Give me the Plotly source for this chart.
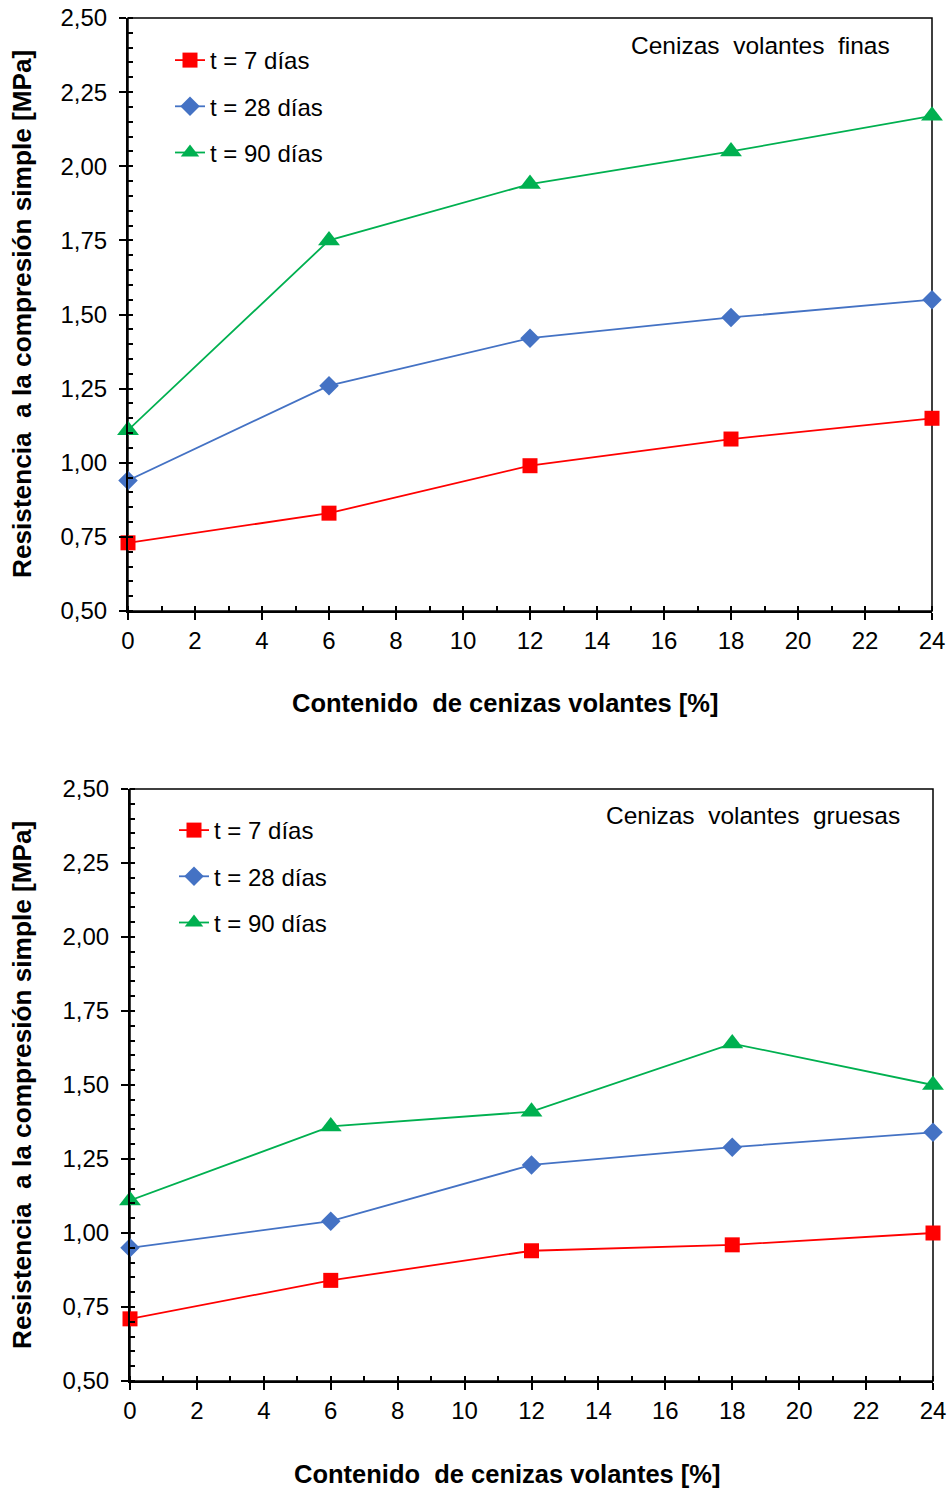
import plotly.graph_objects as go

# ---------------- data ----------------
x_cenizas = [0, 6, 12, 18, 24]
series_names = ["t = 7 días", "t = 28 días", "t = 90 días"]

finas_7 = [0.73, 0.83, 0.99, 1.08, 1.15]
finas_28 = [0.94, 1.26, 1.42, 1.49, 1.55]
finas_90 = [1.11, 1.75, 1.94, 2.05, 2.17]

gruesas_7 = [0.71, 0.84, 0.94, 0.96, 1.00]
gruesas_28 = [0.95, 1.04, 1.23, 1.29, 1.34]
gruesas_90 = [1.11, 1.36, 1.41, 1.64, 1.50]

x_range = [0, 24]
y_range = [0.5, 2.5]

panel_titles = ["Cenizas  volantes  finas", "Cenizas  volantes  gruesas"]
x_title = "Contenido  de cenizas volantes [%]"
y_title = "Resistencia  a la compresión simple [MPa]"

# ---------------- style ----------------
W, H = 949, 1490
FONT = "Liberation Sans, Arial, sans-serif"
colors = ["#FF0000", "#4472C4", "#00B050"]
symbols = ["square", "diamond", "triangle-up"]
msizes = [15, 15, 19]


def fx(px):
    return px / W


def fy(py):
    return 1 - py / H


fig = go.Figure()

panels = [
    dict(data=[finas_7, finas_28, finas_90], xa="x", ya="y", legend="legend"),
    dict(data=[gruesas_7, gruesas_28, gruesas_90], xa="x2", ya="y2", legend="legend2"),
]

for p in panels:
    for i, ys in enumerate(p["data"]):
        fig.add_trace(go.Scatter(
            x=x_cenizas, y=ys, name=series_names[i], mode="lines+markers",
            line=dict(color=colors[i], width=1.8),
            marker=dict(symbol=symbols[i], size=msizes[i], color=colors[i]),
            xaxis=p["xa"], yaxis=p["ya"], legend=p["legend"],
            legendgroup=p["legend"] + str(i), cliponaxis=False,
        ))

# domains (pixel-derived)
top_x = [fx(128), fx(932)]
top_y = [fy(611), fy(18)]
bot_x = [fx(130), fx(933)]
bot_y = [fy(1381), fy(789)]

tickfont = dict(family=FONT, size=24, color="black")


def xaxis_main(domain, anchor):
    return dict(domain=domain, anchor=anchor, range=x_range, tick0=0, dtick=2, automargin=False,
                ticks="outside", ticklen=7, tickwidth=2, tickcolor="black",
                minor=dict(ticks="inside", ticklen=5, tickwidth=1.5, tickcolor="black", dtick=1, showgrid=False),
                showline=True, linewidth=2, linecolor="black", showgrid=False, zeroline=False,
                tickfont=tickfont, ticklabelstandoff=0, fixedrange=True)


def yaxis_main(domain, anchor):
    return dict(domain=domain, anchor=anchor, range=y_range, tick0=0.5, dtick=0.25, automargin=False,
                tickformat=".2f",
                ticks="outside", ticklen=7, tickwidth=2, tickcolor="black",
                minor=dict(ticks="inside", ticklen=5, tickwidth=1.5, tickcolor="black", dtick=0.05, showgrid=False),
                showline=True, linewidth=2, linecolor="black", showgrid=False, zeroline=False,
                tickfont=tickfont, ticklabelstandoff=7, fixedrange=True)


def xaxis_over(base, anchor):
    return dict(overlaying=base, anchor=anchor, side="bottom", range=x_range, tick0=0, dtick=2,
                automargin=False,
                ticks="inside", ticklen=7, tickwidth=2, tickcolor="black",
                showticklabels=False, showline=False, showgrid=False, zeroline=False, fixedrange=True)


def yaxis_over(base, anchor):
    return dict(overlaying=base, anchor=anchor, side="left", range=y_range, tick0=0.5, dtick=0.25,
                automargin=False,
                ticks="inside", ticklen=7, tickwidth=2, tickcolor="black",
                showticklabels=False, showline=False, showgrid=False, zeroline=False, fixedrange=True)


legend_common = dict(font=dict(family=FONT, size=24, color="black"), bgcolor="rgba(0,0,0,0)",
                     tracegroupgap=12, traceorder="grouped", itemclick=False, itemdoubleclick=False,
                     xanchor="left", yanchor="top")

fig.update_layout(
    width=W, height=H,
    margin=dict(l=0, r=0, t=0, b=0, autoexpand=False),
    paper_bgcolor="white", plot_bgcolor="white",
    separators=", ",
    font=dict(family=FONT, size=24, color="black"),
    xaxis=xaxis_main(top_x, "y"),
    yaxis=yaxis_main(top_y, "x"),
    xaxis2=xaxis_main(bot_x, "y2"),
    yaxis2=yaxis_main(bot_y, "x2"),
    xaxis3=xaxis_over("x", "y"),
    yaxis3=yaxis_over("y", "x"),
    xaxis4=xaxis_over("x2", "y2"),
    yaxis4=yaxis_over("y2", "x2"),
    legend=dict(x=fx(170), y=fy(38), **legend_common),
    legend2=dict(x=fx(174), y=fy(808), **legend_common),
    showlegend=True,
)

# frames (top and right borders)
for xr, yr in [("x domain", "y domain"), ("x2 domain", "y2 domain")]:
    fig.add_shape(type="rect", xref=xr, yref=yr, x0=0, x1=1, y0=0, y1=1,
                  line=dict(color="black", width=1.5), layer="below")

# panel titles
fig.add_annotation(text=panel_titles[0], x=fx(892), y=fy(45), xref="paper", yref="paper",
                   xanchor="right", yanchor="middle", showarrow=False,
                   font=dict(family=FONT, size=24.5, color="black"))
fig.add_annotation(text=panel_titles[1], x=fx(902), y=fy(815), xref="paper", yref="paper",
                   xanchor="right", yanchor="middle", showarrow=False,
                   font=dict(family=FONT, size=24.5, color="black"))

# axis titles
for cx, cy in [(505, 703), (507, 1474)]:
    fig.add_annotation(text="<b>" + x_title + "</b>", x=fx(cx), y=fy(cy), xref="paper", yref="paper",
                       xanchor="center", yanchor="middle", showarrow=False,
                       font=dict(family=FONT, size=25.5, color="black"))
for cx, cy in [(22, 314), (22, 1085)]:
    fig.add_annotation(text="<b>" + y_title + "</b>", x=fx(cx), y=fy(cy), xref="paper", yref="paper",
                       xanchor="center", yanchor="middle", showarrow=False, textangle=-90,
                       font=dict(family=FONT, size=26.2, color="black"))

fig.write_html("out.html")
